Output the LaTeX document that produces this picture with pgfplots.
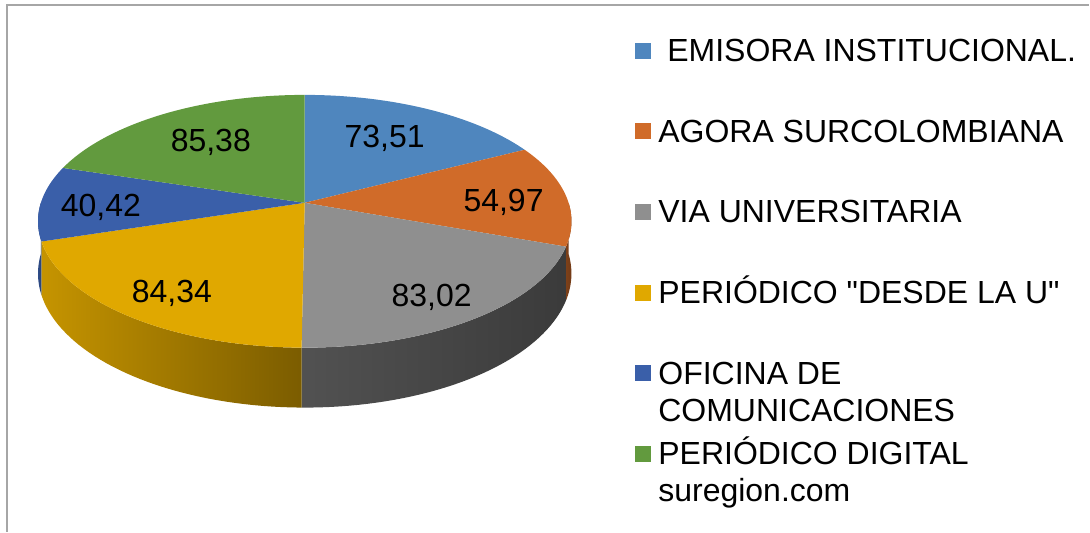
\documentclass[border=0pt]{standalone}
\usepackage{pgfplots}
\pgfplotsset{compat=1.18}
\usepackage{fontspec}
\setmainfont{Liberation Sans}
\newfontfamily\qfont{Liberation Sans}
\newcommand\dq{{\qfont"}}
\definecolor{cA}{HTML}{4F86BE}
\definecolor{cB}{HTML}{D06B29}
\definecolor{cC}{HTML}{8F8F8F}
\definecolor{cD}{HTML}{E0A800}
\definecolor{cE}{HTML}{3A5FA9}
\definecolor{cF}{HTML}{629A3E}
% slice values
\def\vA{73.51}\def\vB{54.97}\def\vC{83.02}\def\vD{84.34}\def\vE{40.42}\def\vF{85.38}
\pgfmathsetmacro{\tot}{\vA+\vB+\vC+\vD+\vE+\vF}
\pgfmathsetmacro{\cA}{\vA/\tot*360}
\pgfmathsetmacro{\cB}{(\vA+\vB)/\tot*360}
\pgfmathsetmacro{\cC}{(\vA+\vB+\vC)/\tot*360}
\pgfmathsetmacro{\cD}{(\vA+\vB+\vC+\vD)/\tot*360}
\pgfmathsetmacro{\cE}{(\vA+\vB+\vC+\vD+\vE)/\tot*360}
\newcommand\topslice[3]{%
  \addplot[forget plot, draw=none, fill=#3, domain=#1:#2, samples=60]
    ({px(x)},{py(x)}) -- (axis cs:305,203) -- cycle;}
\newcommand\sideslice[4]{%
  \addplot[forget plot, draw=none, left color=#3, right color=#4,
    samples at={0,1,...,40,40.001,41,42,...,80}]
    ({px(th(x,#1,#2))},{sy(x,#1,#2)}) -- cycle;}
\newcommand\ent[1]{\parbox[t]{210pt}{#1}}
\begin{document}
\begin{tikzpicture}
\begin{axis}[
  width=545pt, height=266pt, scale only axis,
  xmin=0, xmax=1090, ymin=0, ymax=532, y dir=reverse,
  hide axis, clip=false,
  declare function={
    w(\t)=1+0.1462*cos(\t);
    px(\t)=305+264.1*sin(\t)/w(\t);
    py(\t)=203-123.8*cos(\t)/w(\t);
    th(\s,\a,\b)=(\s<40.0005)*(\a+(\b-\a)*\s/40)+(\s>40.0005)*(\b-(\b-\a)*(\s-40)/40);
    sy(\s,\a,\b)=py(th(\s,\a,\b))+(\s>40.0005)*51.2/w(th(\s,\a,\b));
  },
  legend style={draw=none, fill=none, inner sep=0pt, outer sep=0pt,
    at={(axis cs:636,30)}, anchor=north west,
    cells={anchor=base west},
    nodes={inner sep=0pt, text height=16pt, text depth=24.3pt},
    column sep=3.5pt, row sep=0pt,
    font=\fontsize{16}{18.5}\selectfont},
  legend image code/.code={\draw[#1, draw=none] (0pt,1.5pt) rectangle (8pt,9.5pt);},
]
\path (axis cs:0,0) rectangle (axis cs:1090,532);
\draw[color=black!35, line width=1pt] (axis cs:7,532) -- (axis cs:7,5) -- (axis cs:1090,5);
% sides
\sideslice{90}{\cB}{cB!60!black}{cB!55!black}
\sideslice{\cB}{\cC}{black!68}{black!77}
\sideslice{\cC}{\cD}{cD!88!black}{cD!55!black}
\sideslice{\cD}{270}{cE!80!black}{cE!70!black}
% tops
\topslice{0}{\cA}{cA}
\topslice{\cA}{\cB}{cB}
\topslice{\cB}{\cC}{cC}
\topslice{\cC}{\cD}{cD}
\topslice{\cD}{\cE}{cE}
\topslice{\cE}{360}{cF}
% labels
\begin{scope}[every node/.style={font=\fontsize{16}{18.5}\selectfont, anchor=base, inner sep=0pt}]
\node at (axis cs:385,148) {73,51};
\node at (axis cs:504,212) {54,97};
\node at (axis cs:432,307) {83,02};
\node at (axis cs:172,303) {84,34};
\node at (axis cs:101,217) {40,42};
\node at (axis cs:211,152) {85,38};
\end{scope}
\addlegendimage{fill=cA}\addlegendentry{\ent{\hspace{4.5pt}EMISORA INSTITUCIONAL.}}
\addlegendimage{fill=cB}\addlegendentry{\ent{AGORA SURCOLOMBIANA}}
\addlegendimage{fill=cC}\addlegendentry{\ent{VIA UNIVERSITARIA}}
\addlegendimage{fill=cD}\addlegendentry{\ent{PERIÓDICO \dq DESDE LA U\dq}}
\addlegendimage{fill=cE}\addlegendentry{\ent{OFICINA DE\newline COMUNICACIONES}}
\addlegendimage{fill=cF}\addlegendentry{\ent{PERIÓDICO DIGITAL\newline suregion.com}}
\end{axis}
\end{tikzpicture}
\end{document}
